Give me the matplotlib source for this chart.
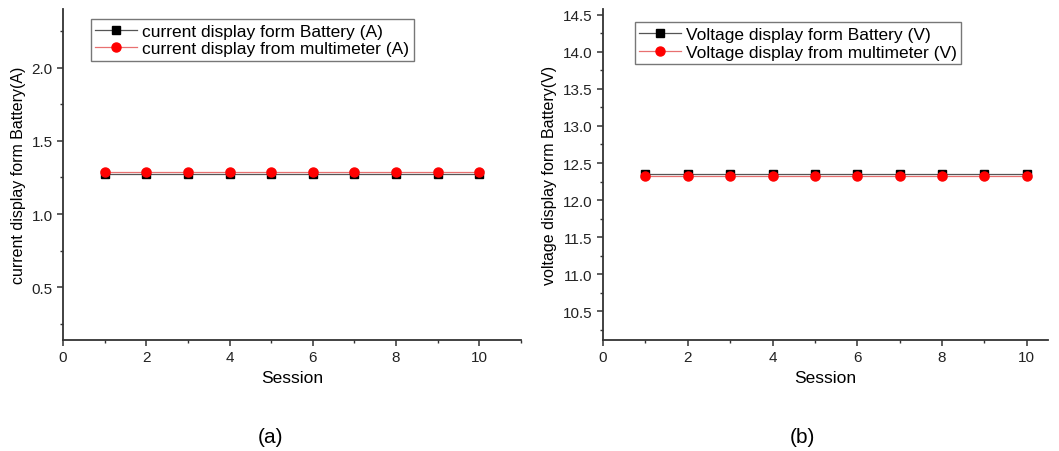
import matplotlib.pyplot as plt
from matplotlib.ticker import MultipleLocator

plt.rcParams['font.family'] = ['Liberation Sans', 'DejaVu Sans']

sessions = [1, 2, 3, 4, 5, 6, 7, 8, 9, 10]
current_battery = [1.27] * 10
current_meter = [1.29] * 10
voltage_battery = [12.35] * 10
voltage_meter = [12.32] * 10


def style_axes(ax):
    ax.spines['top'].set_visible(False)
    ax.spines['right'].set_visible(False)
    for s in ['left', 'bottom']:
        ax.spines[s].set_linewidth(1.3)
        ax.spines[s].set_color('#333333')
    ax.xaxis.set_major_locator(MultipleLocator(2))
    ax.xaxis.set_minor_locator(MultipleLocator(1))
    ax.tick_params(which='major', length=4, width=1.1, labelsize=11, colors='#333333', labelcolor='#222222')
    ax.tick_params(which='minor', length=2.5, width=1.0, colors='#333333')


fig = plt.figure(figsize=(10.59, 4.52), dpi=100)

ax1 = fig.add_axes([0.0595, 0.2456, 0.4325, 0.7323])
ax1.plot(sessions, current_battery, color='#555555', lw=0.9, marker='s', ms=5.5,
         mfc='black', mec='black', label='current display form Battery (A)')
ax1.plot(sessions, current_meter, color='#e87070', lw=0.9, marker='o', ms=6.5,
         mfc='red', mec='red', label='current display from multimeter (A)')
ax1.set_xlim(0, 11)
ax1.set_ylim(0.14, 2.40)
ax1.yaxis.set_major_locator(MultipleLocator(0.5))
ax1.yaxis.set_minor_locator(MultipleLocator(0.25))
style_axes(ax1)
ax1.set_xlabel('Session', fontsize=12.5)
ax1.set_ylabel('current display form Battery(A)', fontsize=11.5)
ax1.legend(loc='upper left', bbox_to_anchor=(0.05, 0.985), fontsize=12.5,
           frameon=True, fancybox=False, edgecolor='#555555', borderpad=0.25,
           labelspacing=0.15, handlelength=2.4, handletextpad=0.3, borderaxespad=0.3)

ax2 = fig.add_axes([0.5694, 0.2456, 0.4202, 0.7323])
ax2.plot(sessions, voltage_battery, color='#555555', lw=0.9, marker='s', ms=5.5,
         mfc='black', mec='black', label='Voltage display form Battery (V)')
ax2.plot(sessions, voltage_meter, color='#e87070', lw=0.9, marker='o', ms=6.5,
         mfc='red', mec='red', label='Voltage display from multimeter (V)')
ax2.set_xlim(0, 10.5)
ax2.set_ylim(10.11, 14.58)
ax2.yaxis.set_major_locator(MultipleLocator(0.5))
ax2.yaxis.set_minor_locator(MultipleLocator(0.25))
style_axes(ax2)
ax2.set_xlabel('Session', fontsize=12.5)
ax2.set_ylabel('voltage display form Battery(V)', fontsize=11.5)
ax2.legend(loc='upper left', bbox_to_anchor=(0.06, 0.975), fontsize=12.5,
           frameon=True, fancybox=False, edgecolor='#555555', borderpad=0.25,
           labelspacing=0.15, handlelength=2.4, handletextpad=0.3, borderaxespad=0.3)

fig.text(0.255, 0.033, '(a)', fontsize=15, ha='center', va='center')
fig.text(0.758, 0.033, '(b)', fontsize=15, ha='center', va='center')

fig.savefig('out.png', dpi=100)
